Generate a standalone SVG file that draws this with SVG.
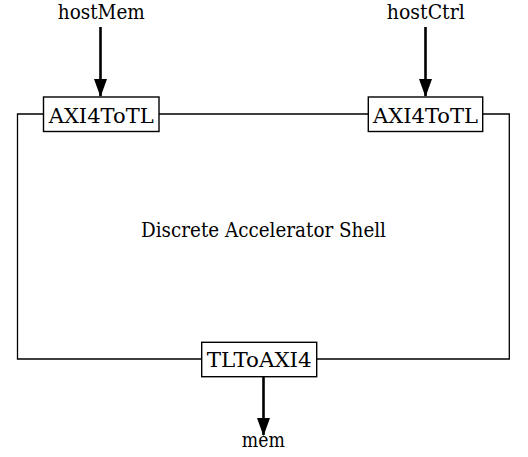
<svg xmlns="http://www.w3.org/2000/svg" width="528" height="457" viewBox="0 0 528 457">
<style>
.t{font-family:"DejaVu Serif",serif;font-size:20px;fill:#000;text-anchor:middle}
.box{fill:#fff;stroke:#000;stroke-width:1.4}
.wire{fill:none;stroke:#000;stroke-width:1.3}
.arr{fill:none;stroke:#000;stroke-width:2.6}
</style>
<defs>
<marker id="ah" markerUnits="userSpaceOnUse" markerWidth="18" markerHeight="13" refX="17" refY="6.5" orient="auto" viewBox="0 0 18 13">
<path d="M0,0 L18,6.5 L0,13 Z" fill="#000"/>
</marker>
</defs>
<g id="connectors">
<path class="wire" d="M43.5,114 H17.5 V359 H201.7 M316.7,359 H509.3 V114 H482.7 M159,114 H368.3"/>
<line class="arr" x1="100.5" y1="27" x2="100.5" y2="96" marker-end="url(#ah)"/>
<line class="arr" x1="425.5" y1="27" x2="425.5" y2="96" marker-end="url(#ah)"/>
<line class="arr" x1="263.5" y1="377" x2="263.5" y2="435" marker-end="url(#ah)"/>
</g>
<g id="shell">
<text class="t" x="263.5" y="237" textLength="245" lengthAdjust="spacingAndGlyphs">Discrete Accelerator Shell</text>
</g>
<g id="hostMem"><text class="t" x="101.3" y="18.5" textLength="87" lengthAdjust="spacingAndGlyphs">hostMem</text></g>
<g id="hostCtrl"><text class="t" x="425.8" y="18.5" textLength="78" lengthAdjust="spacingAndGlyphs">hostCtrl</text></g>
<g id="mem"><text class="t" x="263.3" y="446.7" textLength="43" lengthAdjust="spacingAndGlyphs">mem</text></g>
<g id="axi4totl-left">
<rect class="box" x="43.5" y="97" width="115.5" height="34.5"/>
<text class="t" x="101.2" y="122.5" textLength="105" lengthAdjust="spacingAndGlyphs">AXI4ToTL</text>
</g>
<g id="axi4totl-right">
<rect class="box" x="368.3" y="97" width="114.4" height="34.5"/>
<text class="t" x="425.5" y="122.5" textLength="105" lengthAdjust="spacingAndGlyphs">AXI4ToTL</text>
</g>
<g id="tltoaxi4">
<rect class="box" x="201.7" y="342.3" width="115" height="34.4"/>
<text class="t" x="259.2" y="366.7" textLength="105" lengthAdjust="spacingAndGlyphs">TLToAXI4</text>
</g>
</svg>
